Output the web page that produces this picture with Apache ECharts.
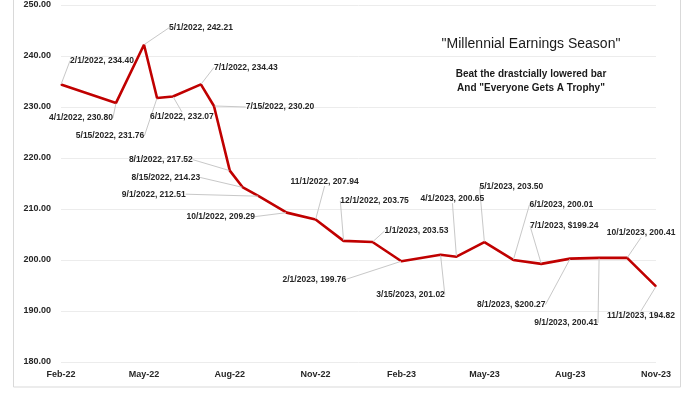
<!DOCTYPE html>
<html>
<head>
<meta charset="utf-8">
<script src="https://cdn.jsdelivr.net/npm/echarts@6/dist/echarts.min.js"></script>
<style>
html,body{margin:0;padding:0;background:#fff;}
#chart{width:700px;height:394px;}
</style>
</head>
<body>
<div id="chart"></div>
<script>
// ---- data ----
const dates = ['2/1/2022','4/1/2022','5/1/2022','5/15/2022','6/1/2022','7/1/2022','7/15/2022',
  '8/1/2022','8/15/2022','9/1/2022','10/1/2022','11/1/2022','12/1/2022','1/1/2023','2/1/2023',
  '3/15/2023','4/1/2023','5/1/2023','6/1/2023','7/1/2023','8/1/2023','9/1/2023','10/1/2023','11/1/2023'];
const values = [234.40,230.80,242.21,231.76,232.07,234.43,230.20,
  217.52,214.23,212.51,209.29,207.94,203.75,203.53,199.76,
  201.02,200.65,203.50,200.01,199.24,200.27,200.41,200.41,194.82];
const dollarLabels = ['7/1/2023','8/1/2023'];
const tickDates = ['2/1/2022','5/1/2022','8/1/2022','11/1/2022','2/1/2023','5/1/2023','8/1/2023','11/1/2023'];
const tickLabels = ['Feb-22','May-22','Aug-22','Nov-22','Feb-23','May-23','Aug-23','Nov-23'];
const titleText = '"Millennial Earnings Season"';
const subtitleLines = ['Beat the drastcially lowered bar', 'And "Everyone Gets A Trophy"'];

// label placement offsets (label centre relative to its point, px)
const labelOffsets = [
  [41,-24],[-35,15],[57,-17],[-47,38],[9,20],[45,-17],[66,1],
  [-69,-11],[-77,-10],[-105,-2],[-66,4],[9,-38],[31,-40],[44,-11],[-87,18],
  [-30,40],[-4,-58],[27,-55],[48,-55],[23,-38],[-59,46],[-33,65],[14,-25],[-15,29]
];

function parseDate(s){ const p = s.split('/').map(Number); return Date.UTC(p[2], p[0]-1, p[1]); }
const tickValues = tickDates.map(parseDate);
const seriesData = dates.map((d,i) => [parseDate(d), values[i]]);

const FONT = '"Liberation Sans", Arial, sans-serif';
const chart = echarts.init(document.getElementById('chart'), null, {renderer:'canvas'});
chart.setOption({
  animation: false,
  backgroundColor: '#fff',
  grid: {left: 61, right: 44, top: 5, bottom: 32, containLabel: false},
  title: [
    {text: titleText, left: 526, top: 32, textAlign: 'center',
     textStyle: {fontFamily: FONT, fontSize: 14, fontWeight: 'normal', color: '#1a1a1a'}},
    {text: subtitleLines.join('\n'), left: 526, top: 62, textAlign: 'center',
     textStyle: {fontFamily: FONT, fontSize: 10, fontWeight: 'bold', color: '#1a1a1a', lineHeight: 14}}
  ],
  graphic: [
    {type: 'rect', silent: true, z: -1,
     shape: {x: 13.5, y: -5, width: 667, height: 392},
     style: {fill: 'none', stroke: '#d9d9d9', lineWidth: 1}}
  ],
  xAxis: {
    type: 'value',
    min: tickValues[0], max: tickValues[tickValues.length-1],
    splitLine: {show: false},
    axisLine: {show: false},
    axisTick: {show: false},
    axisLabel: {
      customValues: tickValues,
      margin: 8,
      fontFamily: FONT, fontSize: 9, fontWeight: 'bold', color: '#262626',
      formatter: v => { const i = tickValues.indexOf(v); return i >= 0 ? tickLabels[i] : ''; }
    }
  },
  yAxis: {
    type: 'value', min: 180, max: 250, interval: 10,
    axisLine: {show: false}, axisTick: {show: false},
    splitLine: {lineStyle: {color: '#ececec', width: 1}},
    axisLabel: {margin: 10, fontFamily: FONT, fontSize: 9, fontWeight: 'bold', color: '#262626',
      formatter: v => v.toFixed(2)}
  },
  series: [{
    type: 'line',
    data: seriesData,
    showSymbol: true,
    symbol: 'circle', symbolSize: 1,
    itemStyle: {color: '#c00000'},
    lineStyle: {color: '#c00000', width: 2.6},
    emphasis: {disabled: true},
    label: {
      show: true,
      fontFamily: FONT, fontSize: 8.5, fontWeight: 'bold', color: '#262626',
      formatter: p => {
        const d = dates[p.dataIndex];
        return d + ', ' + (dollarLabels.includes(d) ? '$' : '') + values[p.dataIndex].toFixed(2);
      }
    },
    labelLine: {show: true, lineStyle: {color: '#c8c8c8', width: 1}},
    labelLayout: params => {
      const o = labelOffsets[params.dataIndex];
      const cx = params.rect.x + params.rect.width/2;
      const cy = params.rect.y + params.rect.height/2;
      return {x: cx + o[0], y: cy + o[1], align: 'center', verticalAlign: 'middle'};
    }
  }]
});
</script>
</body>
</html>
